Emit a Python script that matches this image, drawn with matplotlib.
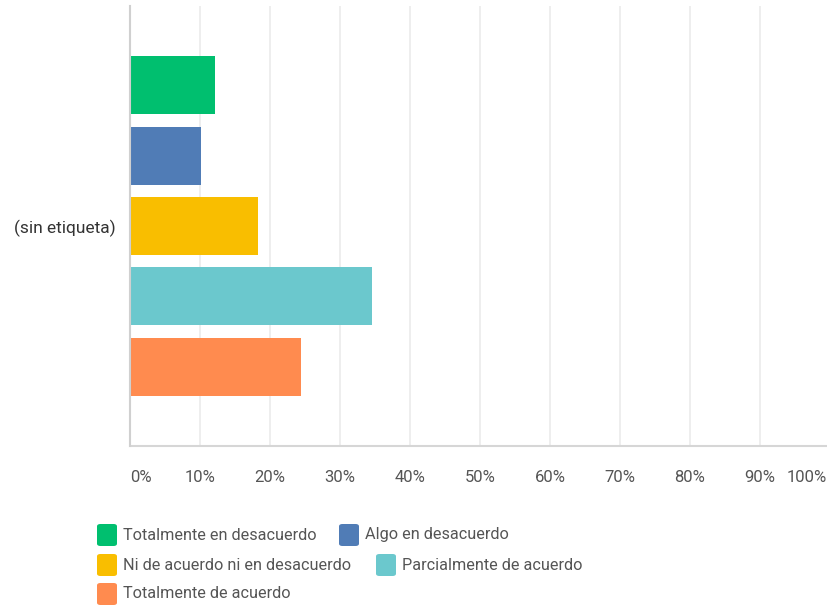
import matplotlib.pyplot as plt
from matplotlib.patches import FancyBboxPatch
from matplotlib.transforms import ScaledTranslation

categories = ['Totalmente en desacuerdo', 'Algo en desacuerdo',
              'Ni de acuerdo ni en desacuerdo', 'Parcialmente de acuerdo',
              'Totalmente de acuerdo']
values = [12.2, 10.1, 18.3, 34.6, 24.4]
colors = ['#00bf6f', '#507cb6', '#f9be00', '#6bc8cd', '#ff8b4f']
ticks = list(range(0, 101, 10))
tick_labels = [f'{t}%' for t in ticks]
group_label = '(sin etiqueta)'

plt.rcParams['font.family'] = ['Roboto', 'DejaVu Sans']

W, H = 828, 608
fig = plt.figure(figsize=(W / 100, H / 100), dpi=100)
ax = fig.add_axes([130 / W, (H - 446) / H, 700 / W, 440 / H])

pos = list(range(len(values)))
ax.barh(pos, values, height=0.825, color=colors, zorder=3)
ax.set_ylim(len(values) - 1 + 1.13, -1.13)
ax.set_xlim(0, 100)

ax.set_xticks(ticks)
ax.set_xticklabels(tick_labels, color='#555555', fontsize=12)
ax.tick_params(axis='x', length=0, pad=17)
labs = ax.get_xticklabels()
labs[0].set_ha('left')
labs[-1].set_ha('right')
labs[-1].set_transform(labs[-1].get_transform() + ScaledTranslation(-3 / 100, 0, fig.dpi_scale_trans))
ax.set_yticks([2])
ax.set_yticklabels([group_label], color='#333333', fontsize=12.5)
ax.tick_params(axis='y', length=0, pad=10)

ax.grid(axis='x', color='#ebebeb', linewidth=1.2, zorder=0)
for s in ['top', 'right']:
    ax.spines[s].set_visible(False)
ax.spines['left'].set_color('#d0d0d0')
ax.spines['left'].set_linewidth(1.5)
ax.spines['bottom'].set_color('#d6d6d6')
ax.spines['bottom'].set_linewidth(1.5)
ax.spines['left'].set_zorder(4)

# legend laid out as in the reference (flowing rows)
rows = [[0, 1], [2, 3], [4]]
row_y = [535, 565, 594]
col_x = {0: 97, 1: 339, 2: 97, 3: 376, 4: 97}
for r, idxs in enumerate(rows):
    for i in idxs:
        x0 = col_x[i]
        y0 = row_y[r]
        box = FancyBboxPatch((x0 / W, (H - y0 - 11) / H), 20 / W, 22 / H,
                             boxstyle='round,pad=0,rounding_size=0.004',
                             transform=fig.transFigure, facecolor=colors[i],
                             edgecolor='none')
        fig.patches.append(box)
        fig.text((x0 + 26) / W, (H - y0) / H, categories[i], fontsize=11.7,
                 color='#555555', va='center', ha='left')

fig.savefig('out.png', dpi=100)
